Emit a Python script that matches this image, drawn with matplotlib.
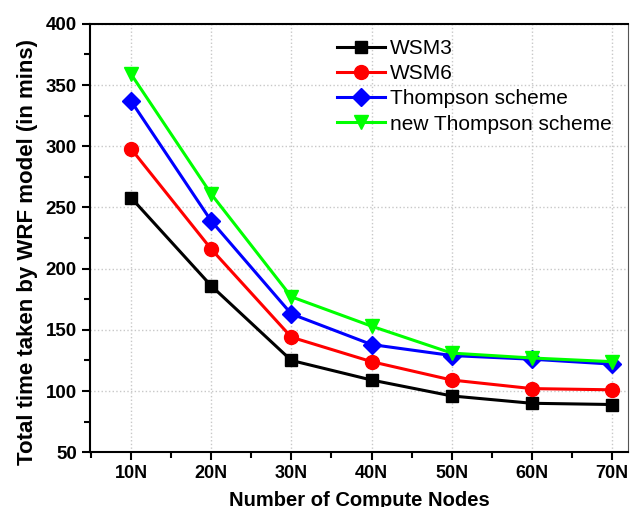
import numpy as np
import matplotlib.pyplot as plt
from matplotlib.ticker import MultipleLocator

nodes = ['10N', '20N', '30N', '40N', '50N', '60N', '70N']
wsm3 = [258, 186, 125, 109, 96, 90, 89]
wsm6 = [298, 216, 144, 124, 109, 102, 101]
thompson = [337, 239, 163, 138, 129, 126, 122]
new_thompson = [359, 261, 177, 153, 131, 127, 124]

plt.rcParams['font.family'] = ['Liberation Sans', 'DejaVu Sans']

fig = plt.figure(figsize=(6.3, 5.07), dpi=100)
ax = fig.add_axes([0.143, 0.108, 0.854, 0.845])

x = np.arange(1, len(nodes) + 1)
ax.plot(x, wsm3, color='black', marker='s', lw=2.2, ms=9, label='WSM3')
ax.plot(x, wsm6, color='red', marker='o', lw=2.2, ms=10, label='WSM6')
ax.plot(x, thompson, color='blue', marker='D', lw=2.2, ms=9, label='Thompson scheme')
ax.plot(x, new_thompson, color='#00ff00', marker='v', lw=2.2, ms=10, label='new Thompson scheme')

ax.set_xlim(0.49, 7.2)
ax.set_ylim(50, 400)
ax.set_xticks(x)
ax.set_xticklabels(nodes, fontweight='bold', fontsize=13)
ax.xaxis.set_minor_locator(MultipleLocator(0.5))
ax.yaxis.set_major_locator(MultipleLocator(50))
ax.yaxis.set_minor_locator(MultipleLocator(25))
for lab in ax.get_yticklabels():
    lab.set_fontweight('bold')
    lab.set_fontsize(13.5)

ax.tick_params(which='major', direction='out', length=6, width=1.5)
ax.tick_params(which='minor', direction='out', length=4, width=1.5)
ax.tick_params(axis='x', which='both', top=False)
ax.tick_params(axis='y', which='both', right=False)

ax.grid(True, which='major', color='#c8c8c8', linestyle=':', lw=1)
ax.set_axisbelow(True)

ax.spines['left'].set_linewidth(1.5)
ax.spines['bottom'].set_linewidth(1.5)
ax.spines['top'].set_linewidth(1.5)
ax.spines['right'].set_linewidth(0.8)
ax.spines['right'].set_color('#555555')

ax.set_xlabel('Number of Compute Nodes', fontweight='bold', fontsize=14.5, labelpad=6)
ax.set_ylabel('Total time taken by WRF model (in mins)', fontweight='bold', fontsize=16)
ax.yaxis.set_label_coords(-0.097, 0.467)

ax.legend(loc='upper right', frameon=False, fontsize=15, handlelength=2.3,
          borderaxespad=0, borderpad=0, labelspacing=0.3, handletextpad=0.25,
          bbox_to_anchor=(0.97, 0.965))

fig.savefig('out.png', dpi=100)
